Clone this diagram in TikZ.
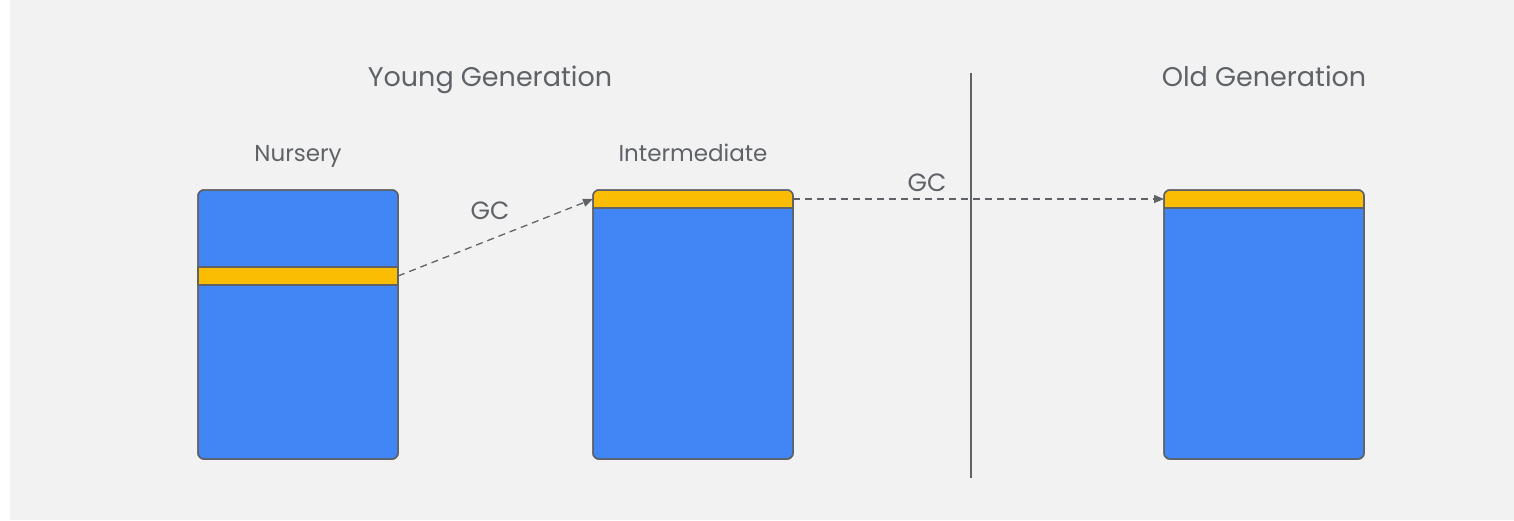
\documentclass[tikz,border=0pt]{standalone}
\usepackage{fontspec}
\setmainfont{Poppins}
\usepackage{tikz}
\usetikzlibrary{positioning,arrows.meta}
\definecolor{gcblue}{HTML}{4285F4}
\definecolor{gcyellow}{HTML}{FBBC04}
\definecolor{gcline}{HTML}{5F6368}
\definecolor{gcback}{HTML}{F2F2F2}
\tikzstyle{heap} = [draw=gcline,fill=gcblue,line width=1.5pt,rounded corners=6pt,minimum width=200pt,minimum height=269pt,inner sep=0pt,outer sep=0pt]
\tikzstyle{live} = [draw=gcline,fill=gcyellow,line width=1.5pt,minimum width=200pt,minimum height=18pt,inner sep=0pt,outer sep=0pt]
\tikzstyle{gc} = [draw=gcline,line width=1.3pt,dash pattern=on 7pt off 5pt,-{Triangle[length=10pt,width=8pt]}]
\tikzstyle{title} = [text=gcline,font=\fontsize{27}{32}\selectfont,anchor=base,inner sep=0pt]
\tikzstyle{caption} = [text=gcline,font=\fontsize{23}{28}\selectfont,anchor=base,inner sep=0pt]

\begin{document}
\begin{tikzpicture}[x=1pt,y=-1pt]
            \fill[white] (0,0) rectangle (1514,520);
            \fill[gcback] (10,0) rectangle (1514,520);
            \useasboundingbox (0,0) rectangle (1514,520);
            % heaps
            \node[heap] (nursery) at (298,324.5) {};
            \node[heap] (intermediate) [right = 195pt of nursery] {};
            \node[heap] (old) [right = 371pt of intermediate] {};
            \node[live] (nurserylive) [below = 77pt of nursery.north] {};
            \begin{scope}
              \clip[rounded corners=6pt] (intermediate.south west) rectangle (intermediate.north east);
              \node[live] (interlive) [below = 0pt of intermediate.north] {};
            \end{scope}
            \begin{scope}
              \clip[rounded corners=6pt] (old.south west) rectangle (old.north east);
              \node[live] (oldlive) [below = 0pt of old.north] {};
            \end{scope}
            \foreach \heapname in {nursery,intermediate,old}
              \draw[gcline,line width=1.5pt,rounded corners=6pt] (\heapname.south west) rectangle (\heapname.north east);
            % divider
            \coordinate (divtop) at (971,73);
            \coordinate (divbot) at (971,478);
            \draw[gcline,line width=1.5pt] (divtop) -- (divbot);
            % texts
            \node[title] (young) at (490,86) {Young Generation};
            \node[title] (oldgen) at (1264,86) {Old Generation};
            \node[caption] (nurserytext) at (298,161) {Nursery};
            \node[caption] (intertext) at (693,161) {Intermediate};
            \node[caption,font=\fontsize{25}{30}\selectfont] (gcone) at (490,219) {GC};
            \node[caption,font=\fontsize{25}{30}\selectfont] (gctwo) at (927,191) {GC};
            % promotions
            \draw[gc] (nurserylive.east) -- (interlive.west);
            \draw[gc] (interlive.east) -- (oldlive.west);
        \end{tikzpicture}
\end{document}
